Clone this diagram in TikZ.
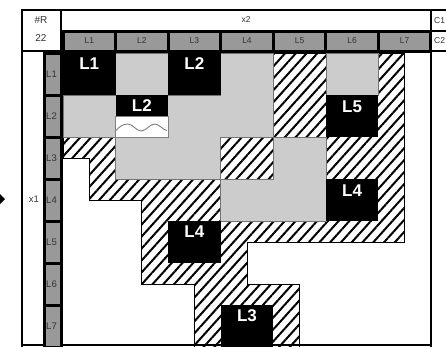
\documentclass[tikz,border=0pt]{standalone}
\usepackage{fontspec}
\setmainfont{Liberation Sans}
\usetikzlibrary{patterns.meta}
\definecolor{hdrgray}{gray}{0.6}
\definecolor{cellgray}{gray}{0.8}
\begin{document}
\begin{tikzpicture}[x=1pt,y=-1pt,
    hdrcell/.style={fill=hdrgray,draw=black,line width=3pt},
    hdrtext/.style={font=\fontsize{8.5}{8.5}\selectfont,text=black!80,inner sep=0pt},
    hatchzone/.style={pattern={Lines[angle=48,distance=8pt,line width=2pt]},draw=black,line width=0.8pt},
    grayzone/.style={fill=cellgray,draw=black!55,line width=0.6pt},
    blklabel/.style={font=\fontsize{17}{17}\bfseries\selectfont,text=white,inner sep=0pt}]
    \useasboundingbox (0,0) rectangle (446,346);
    % frame and header
    \draw[line width=2pt] (22,347) -- (22,10) -- (446,10);
    \draw[line width=2pt] (431,10) -- (431,347);
    \draw[line width=2pt] (22,345) -- (431,345);
    \draw[line width=2pt] (22,10) rectangle (61,51);
    \node[hdrtext,font=\fontsize{10}{10}\selectfont] (rlab) at (41,20) {\#R};
    \node[hdrtext,font=\fontsize{10}{10}\selectfont] (rnum) at (41,38) {22};
    \draw[line width=1.8pt] (61,10) rectangle (431,31);
    \draw[line width=1.8pt] (431,31) -- (446,31);
    \draw[line width=1.8pt] (431,51) -- (446,51);
    \node[hdrtext] (x2lab) at (246,20) {x2};
    \node[hdrtext,anchor=west] (c1) at (434,21) {C1};
    \node[hdrtext,anchor=west] (c2) at (434,41) {C2};
    \foreach \k in {1,...,7} {
        \draw[hdrcell] ({63+52.57*(\k-1)},31) rectangle ({63+52.57*\k},51);
        \node[hdrtext] (col\k) at ({63+52.57*(\k-0.5)},41) {L\k};
        \draw[hdrcell] (44,{53+42*(\k-1)}) rectangle (61,{53+42*\k});
        \node[hdrtext,font=\fontsize{9.5}{9.5}\selectfont,anchor=east] (row\k) at (57,{53+42*(\k-0.5)}) {L\k};
    }
    \node[hdrtext,font=\fontsize{9.5}{9.5}\selectfont] (x1lab) at (34,199) {x1};
    \fill (0,194) -- (5,199) -- (0,204) -- cycle;
    % matrix, half-block grid
    \begin{scope}[shift={(63,53)},x=26.28pt,y=-21pt]
        \draw[hatchzone] (0,0) -- (13,0) -- (13,9) -- (7,9) -- (7,11) -- (9,11) -- (9,14)
            -- (5,14) -- (5,11) -- (3,11) -- (3,7) -- (1,7) -- (1,5) -- (0,5) -- cycle;
        \draw[grayzone] (2,0) -- (4,0) -- (4,2) -- (6,2) -- (6,0) -- (8,0) -- (8,4) -- (6,4)
            -- (6,6) -- (2,6) -- (2,4) -- (0,4) -- (0,2) -- (2,2) -- cycle;
        \draw[grayzone] (8,4) -- (10,4) -- (10,8) -- (6,8) -- (6,6) -- (8,6) -- cycle;
        \draw[grayzone] (10,0) rectangle (12,2);
        \fill (0,0) rectangle (2,2);
        \fill (4,0) rectangle (6,2);
        \fill (2,2) rectangle (4,3);
        \fill (10,2) rectangle (12,4);
        \fill (10,6) rectangle (12,8);
        \fill (4,8) rectangle (6,10);
        \fill (6,12) rectangle (8,14);
        \draw[fill=white,draw=black!50,line width=0.6pt] (2,3) rectangle (4,4);
        \node[blklabel] (blkA) at (1,0.5) {L1};
        \node[blklabel] (blkB) at (5,0.5) {L2};
        \node[blklabel] (blkC) at (3,2.5) {L2};
        \node[blklabel] (blkD) at (11,2.55) {L5};
        \node[blklabel] (blkE) at (11,6.55) {L4};
        \node[blklabel] (blkF) at (5,8.5) {L4};
        \node[blklabel] (blkG) at (7,12.5) {L3};
    \end{scope}
    \draw[black!50,line width=0.9pt] (116,130.5) .. controls (119,127) and (123,124) .. (127.75,124)
        .. controls (133,124) and (136,131) .. (141.25,131)
        .. controls (146,131) and (150,124) .. (154.75,124)
        .. controls (159,124) and (163,130) .. (167,130.5);
\end{tikzpicture}
\end{document}
